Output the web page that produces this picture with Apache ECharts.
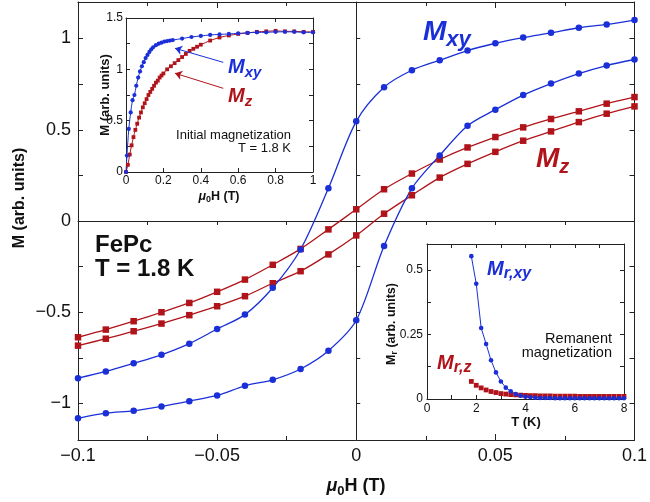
<!DOCTYPE html>
<html>
<head>
<meta charset="utf-8">
<script src="https://cdn.jsdelivr.net/npm/echarts@6/dist/echarts.min.js"></script>
<style>
  html, body { margin: 0; padding: 0; background: #fff; }
  #chart { width: 650px; height: 502px; }
</style>
</head>
<body>
<div id="chart"></div>
<script>
// ---- Hysteresis loops at T = 1.8 K (main panel) ----
const fieldMain = [-0.1, -0.09, -0.08, -0.07, -0.06, -0.05, -0.04, -0.03, -0.02, -0.01, 0,
                   0.01, 0.02, 0.03, 0.04, 0.05, 0.06, 0.07, 0.08, 0.09, 0.1];
const mxyUpper = [-0.861, -0.824, -0.780, -0.733, -0.672, -0.592, -0.513, -0.366, -0.156, 0.179, 0.546,
                  0.733, 0.826, 0.881, 0.934, 0.974, 1.005, 1.031, 1.059, 1.077, 1.101];
const mxyLower = [-1.081, -1.053, -1.040, -1.016, -0.987, -0.956, -0.903, -0.870, -0.811, -0.711, -0.544,
                  -0.137, 0.179, 0.359, 0.522, 0.610, 0.690, 0.753, 0.808, 0.852, 0.885];
const mzUpper = [-0.637, -0.595, -0.549, -0.500, -0.449, -0.388, -0.321, -0.240, -0.153, -0.046, 0.064,
                 0.174, 0.260, 0.337, 0.403, 0.460, 0.513, 0.559, 0.601, 0.643, 0.679];
const mzLower = [-0.683, -0.645, -0.604, -0.562, -0.516, -0.467, -0.412, -0.341, -0.275, -0.183, -0.079,
                 0.040, 0.141, 0.238, 0.313, 0.379, 0.440, 0.491, 0.542, 0.588, 0.628];

// ---- Initial magnetization curves (upper-left inset) ----
const initFieldXY = [0, 0.005, 0.015, 0.025, 0.035, 0.045, 0.055, 0.065, 0.075, 0.085, 0.095, 0.105,
                     0.115, 0.125, 0.135, 0.145, 0.16, 0.175, 0.19, 0.205, 0.22, 0.235, 0.25, 0.3,
                     0.35, 0.4, 0.45, 0.5, 0.55, 0.6, 0.65, 0.7, 0.75, 0.8, 0.85, 0.9, 0.95, 1.0];
const initMxy = [0, 0.16, 0.42, 0.58, 0.70, 0.75, 0.84, 0.92, 0.98, 1.03, 1.07, 1.11,
                 1.14, 1.17, 1.195, 1.215, 1.235, 1.25, 1.26, 1.27, 1.275, 1.28, 1.285, 1.30,
                 1.315, 1.325, 1.335, 1.34, 1.345, 1.35, 1.355, 1.36, 1.36, 1.365, 1.365, 1.365, 1.36, 1.36];
const initFieldZ = [0, 0.01, 0.02, 0.03, 0.04, 0.05, 0.06, 0.07, 0.08, 0.09, 0.1, 0.11, 0.12, 0.13,
                    0.14, 0.15, 0.16, 0.17, 0.18, 0.19, 0.2, 0.22, 0.24, 0.26, 0.28, 0.3, 0.32, 0.34,
                    0.36, 0.38, 0.4, 0.45, 0.5, 0.55, 0.6, 0.65, 0.7, 0.75, 0.8, 0.85, 0.9, 0.95, 1.0];
const initMz = [0, 0.07, 0.17, 0.26, 0.34, 0.41, 0.47, 0.53, 0.58, 0.63, 0.67, 0.71, 0.75, 0.78,
                0.81, 0.84, 0.87, 0.89, 0.92, 0.94, 0.96, 1.00, 1.03, 1.06, 1.09, 1.12, 1.15, 1.18,
                1.20, 1.22, 1.24, 1.28, 1.31, 1.33, 1.345, 1.355, 1.365, 1.37, 1.375, 1.37, 1.37, 1.365, 1.365];

// ---- Remanent magnetization vs temperature (lower-right inset) ----
const tempK = [1.8, 2.0, 2.2, 2.4, 2.6, 2.8, 3.0, 3.2, 3.4, 3.6, 3.8, 4.0, 4.2, 4.4, 4.6, 4.8,
               5.0, 5.2, 5.4, 5.6, 5.8, 6.0, 6.2, 6.4, 6.6, 6.8, 7.0, 7.2, 7.4, 7.6, 7.8, 8.0];
const mrXY = [0.553, 0.446, 0.275, 0.213, 0.150, 0.103, 0.068, 0.044, 0.030, 0.019, 0.013, 0.009,
              0.007, 0.005, 0.004, 0.004, 0.004, 0.003, 0.003, 0.003, 0.003, 0.003, 0.003, 0.003,
              0.003, 0.003, 0.003, 0.003, 0.003, 0.003, 0.003, 0.003];
const mrZ = [0.068, 0.053, 0.043, 0.035, 0.029, 0.025, 0.021, 0.019, 0.017, 0.016, 0.015, 0.014,
             0.013, 0.013, 0.012, 0.012, 0.012, 0.011, 0.011, 0.011, 0.011, 0.011, 0.010, 0.010,
             0.010, 0.010, 0.010, 0.010, 0.010, 0.010, 0.010, 0.010];

// tick / label positions
const mainYLabels = [-1, -0.5, 0, 0.5, 1];
const mainYTicks = [-1, -0.75, -0.5, -0.25, 0, 0.25, 0.5, 0.75, 1];

const BLUE = '#1a2fd8';
const RED = '#b0141a';
const INK = '#222';
const FONT = '"Liberation Sans", Arial, Helvetica, sans-serif';

const pairs = (xs, ys) => xs.map((x, i) => [x, ys[i]]);
const fmtNum = v => (v < 0 ? '\u2212' : '') + String(Math.round(Math.abs(v) * 1000) / 1000);
const onStep = (v, step) => Math.abs(v / step - Math.round(v / step)) < 1e-6;

const frameLine = { show: true, onZero: false, lineStyle: { color: INK, width: 1 } };

function axisBase(extra) {
  return Object.assign({
    type: 'value',
    splitLine: { show: false },
    axisLine: frameLine,
    axisTick: { show: true, inside: true, length: 6, lineStyle: { color: INK, width: 1 } },
    axisLabel: { show: false }
  }, extra);
}

// bold italic symbol with a subscript, e.g. M_xy
function subText(x, y, main, sub, color, size, subSize, drop) {
  return { type: 'text', x: x, y: y, z: 10, style: {
    text: '{m|' + main + '}{s|' + sub + '}', align: 'left', verticalAlign: 'top',
    rich: {
      m: { fontSize: size, fontWeight: 'bold', fontStyle: 'italic', fontFamily: FONT, fill: color, verticalAlign: 'top' },
      s: { fontSize: subSize, fontWeight: 'bold', fontStyle: 'italic', fontFamily: FONT, fill: color, verticalAlign: 'top', padding: [drop, 0, 0, 0] }
    } } };
}

// "μ0H (T)" axis title
function fieldTitle(x, y, size, subSize, drop) {
  return { type: 'text', x: x, y: y, z: 10, style: {
    text: '{a|\u03bc}{s|0}{b|H (T)}', align: 'center', verticalAlign: 'top',
    rich: {
      a: { fontSize: size, fontWeight: 'bold', fontStyle: 'italic', fontFamily: FONT, fill: '#111', verticalAlign: 'top' },
      s: { fontSize: subSize, fontWeight: 'bold', fontFamily: FONT, fill: '#111', verticalAlign: 'top', padding: [drop, 0, 0, 0] },
      b: { fontSize: size, fontWeight: 'bold', fontFamily: FONT, fill: '#111', verticalAlign: 'top' }
    } } };
}

const chart = echarts.init(document.getElementById('chart'), null, { renderer: 'canvas' });

const option = {
  animation: false,
  backgroundColor: '#fff',
  textStyle: { fontFamily: FONT },
  grid: [
    { left: 78, right: 9, top: 2, bottom: 62 },          // main panel
    { left: 126, width: 187, top: 18, height: 154 },      // initial magnetization inset
    { left: 427, width: 197, top: 244, height: 155 }      // remanent magnetization inset
  ],
  xAxis: [
    // main bottom
    axisBase({
      gridIndex: 0, position: 'bottom', min: -0.1, max: 0.1, interval: 0.05,
      minorTick: { show: true, splitNumber: 2, length: 4, lineStyle: { color: INK } },
      axisLabel: { show: true, fontSize: 18, color: '#111', margin: 7, fontFamily: FONT,
        formatter: v => fmtNum(v) }
    }),
    // main top (ticks only)
    axisBase({
      gridIndex: 0, position: 'top', min: -0.1, max: 0.1, interval: 0.05,
      minorTick: { show: true, splitNumber: 2, length: 4, lineStyle: { color: INK } }
    }),
    // horizontal line through M = 0
    axisBase({
      gridIndex: 0, position: 'bottom', min: -0.1, max: 0.1, interval: 0.025,
      axisLine: { show: true, onZero: true, onZeroAxisIndex: 0, lineStyle: { color: INK, width: 1 } },
      axisTick: { show: true, inside: false, length: 4, lineStyle: { color: INK } }
    }),
    // inset 1 bottom
    axisBase({
      gridIndex: 1, position: 'bottom', min: 0, max: 1, interval: 0.2,
      axisTick: { show: true, inside: true, length: 4, lineStyle: { color: INK } },
      axisLabel: { show: true, fontSize: 12, color: '#111', margin: 3, fontFamily: FONT,
        formatter: v => fmtNum(v) }
    }),
    // inset 1 top
    axisBase({
      gridIndex: 1, position: 'top', min: 0, max: 1, interval: 0.2,
      axisTick: { show: true, inside: true, length: 4, lineStyle: { color: INK } }
    }),
    // inset 2 bottom
    axisBase({
      gridIndex: 2, position: 'bottom', min: 0, max: 8, interval: 1,
      axisTick: { show: true, inside: true, length: 4, lineStyle: { color: INK } },
      axisLabel: { show: true, fontSize: 12, color: '#111', margin: 4, fontFamily: FONT,
        formatter: v => (onStep(v, 2) ? String(v) : '') }
    }),
    // inset 2 top
    axisBase({
      gridIndex: 2, position: 'top', min: 0, max: 8, interval: 1,
      axisTick: { show: true, inside: true, length: 4, lineStyle: { color: INK } }
    })
  ],
  yAxis: [
    // main left
    axisBase({
      gridIndex: 0, position: 'left', min: -1.2, max: 1.2,
      axisTick: { show: true, inside: true, length: 5, customValues: mainYTicks,
        lineStyle: { color: INK } },
      axisLabel: { show: true, fontSize: 18, color: '#111', margin: 7, fontFamily: FONT,
        customValues: mainYLabels, formatter: v => fmtNum(v) }
    }),
    // main right
    axisBase({
      gridIndex: 0, position: 'right', min: -1.2, max: 1.2,
      axisTick: { show: true, inside: true, length: 5, customValues: mainYTicks,
        lineStyle: { color: INK } }
    }),
    // vertical line through field = 0
    axisBase({
      gridIndex: 0, position: 'left', min: -1.2, max: 1.2,
      axisLine: { show: true, onZero: true, onZeroAxisIndex: 0, lineStyle: { color: INK, width: 1 } },
      axisTick: { show: true, inside: true, length: 4, customValues: mainYTicks,
        lineStyle: { color: INK } }
    }),
    // inset 1 left
    axisBase({
      gridIndex: 1, position: 'left', min: 0, max: 1.5, interval: 0.25,
      axisTick: { show: true, inside: true, length: 4, lineStyle: { color: INK } },
      axisLabel: { show: true, fontSize: 12, color: '#111', margin: 3, fontFamily: FONT,
        formatter: v => (onStep(v, 0.5) ? String(v) : '') }
    }),
    // inset 1 right
    axisBase({
      gridIndex: 1, position: 'right', min: 0, max: 1.5, interval: 0.25,
      axisTick: { show: true, inside: true, length: 4, lineStyle: { color: INK } }
    }),
    // inset 2 left
    axisBase({
      gridIndex: 2, position: 'left', min: 0, max: 0.6, interval: 0.125,
      axisTick: { show: true, inside: true, length: 4, lineStyle: { color: INK } },
      axisLabel: { show: true, fontSize: 12, color: '#111', margin: 4, fontFamily: FONT,
        formatter: v => (onStep(v, 0.25) ? String(v) : '') }
    }),
    // inset 2 right
    axisBase({
      gridIndex: 2, position: 'right', min: 0, max: 0.6, interval: 0.125,
      axisTick: { show: true, inside: true, length: 4, lineStyle: { color: INK } }
    })
  ],
  series: [
    // main loops
    { type: 'line', xAxisIndex: 0, yAxisIndex: 0, data: pairs(fieldMain, mzUpper), smooth: 0.3,
      symbol: 'rect', symbolSize: 6.5, itemStyle: { color: RED }, lineStyle: { color: RED, width: 1.3 } },
    { type: 'line', xAxisIndex: 0, yAxisIndex: 0, data: pairs(fieldMain, mzLower), smooth: 0.3,
      symbol: 'rect', symbolSize: 6.5, itemStyle: { color: RED }, lineStyle: { color: RED, width: 1.3 } },
    { type: 'line', xAxisIndex: 0, yAxisIndex: 0, data: pairs(fieldMain, mxyUpper), smooth: 0.3,
      symbol: 'circle', symbolSize: 6.5, itemStyle: { color: BLUE }, lineStyle: { color: BLUE, width: 1.3 } },
    { type: 'line', xAxisIndex: 0, yAxisIndex: 0, data: pairs(fieldMain, mxyLower), smooth: 0.3,
      symbol: 'circle', symbolSize: 6.5, itemStyle: { color: BLUE }, lineStyle: { color: BLUE, width: 1.3 } },

    // initial magnetization inset
    { type: 'line', xAxisIndex: 3, yAxisIndex: 3, data: pairs(initFieldZ, initMz), smooth: 0.3,
      symbol: 'rect', symbolSize: 3.8, itemStyle: { color: RED }, lineStyle: { color: RED, width: 1 },
      markLine: { silent: true, symbol: ['none', 'arrow'], symbolSize: 7,
        label: { show: false }, lineStyle: { color: RED, width: 1, type: 'solid' },
        data: [[{ coord: [0.52, 0.815] }, { coord: [0.262, 0.962] }]] } },
    { type: 'line', xAxisIndex: 3, yAxisIndex: 3, data: pairs(initFieldXY, initMxy), smooth: 0.3,
      symbol: 'circle', symbolSize: 4.2, itemStyle: { color: BLUE }, lineStyle: { color: BLUE, width: 1 },
      markLine: { silent: true, symbol: ['none', 'arrow'], symbolSize: 7,
        label: { show: false }, lineStyle: { color: BLUE, width: 1, type: 'solid' },
        data: [[{ coord: [0.52, 1.068] }, { coord: [0.262, 1.205] }]] } },

    // remanent magnetization inset
    { type: 'line', xAxisIndex: 5, yAxisIndex: 5, data: pairs(tempK, mrZ),
      symbol: 'rect', symbolSize: 4.8, itemStyle: { color: RED }, lineStyle: { width: 0 } },
    { type: 'line', xAxisIndex: 5, yAxisIndex: 5, data: pairs(tempK, mrXY),
      symbol: 'circle', symbolSize: 4.6, itemStyle: { color: BLUE }, lineStyle: { color: BLUE, width: 1 } }
  ],
  graphic: [
    // main axis titles
    fieldTitle(356, 477, 18, 13, 8),
    { type: 'text', x: 20, y: 198, rotation: Math.PI / 2, z: 10, style: {
        text: 'M (arb. units)', font: 'bold 16px ' + FONT, fill: '#111', align: 'center', verticalAlign: 'middle' } },

    // sample / temperature
    { type: 'text', x: 95, y: 245, z: 10, style: {
        text: 'FePc', font: 'bold 24px ' + FONT, fill: '#111', align: 'left', verticalAlign: 'middle' } },
    { type: 'text', x: 95, y: 269, z: 10, style: {
        text: 'T = 1.8 K', font: 'bold 24px ' + FONT, fill: '#111', align: 'left', verticalAlign: 'middle' } },

    // series labels, main panel
    subText(423, 18, 'M', 'xy', BLUE, 28, 22, 11),
    subText(536, 145, 'M', 'z', RED, 28, 20, 12),

    // inset 1 texts
    fieldTitle(219, 190, 12.5, 9, 5),
    { type: 'text', x: 105, y: 95, rotation: Math.PI / 2, z: 10, style: {
        text: 'M (arb. units)', font: 'bold 13px ' + FONT, fill: '#111', align: 'center', verticalAlign: 'middle' } },
    { type: 'text', x: 291, y: 135, z: 10, style: {
        text: 'Initial magnetization', font: '13px ' + FONT, fill: '#111', align: 'right', verticalAlign: 'middle' } },
    { type: 'text', x: 291, y: 148, z: 10, style: {
        text: 'T = 1.8 K', font: '13px ' + FONT, fill: '#111', align: 'right', verticalAlign: 'middle' } },
    subText(228, 57, 'M', 'xy', BLUE, 20, 15, 8),
    subText(228, 86, 'M', 'z', RED, 20, 15, 8),

    // inset 2 texts
    { type: 'text', x: 526, y: 416, z: 10, style: {
        text: 'T (K)', font: 'bold 13px ' + FONT, fill: '#111', align: 'center', verticalAlign: 'top' } },
    { type: 'text', x: 392, y: 324, rotation: Math.PI / 2, z: 10, style: {
        text: '{m|M}{s|r}{b| (arb. units)}', align: 'center', verticalAlign: 'middle',
        rich: {
          m: { fontSize: 12.5, fontWeight: 'bold', fontFamily: FONT, fill: '#111', verticalAlign: 'top' },
          s: { fontSize: 9, fontWeight: 'bold', fontFamily: FONT, fill: '#111', verticalAlign: 'top', padding: [5, 0, 0, 0] },
          b: { fontSize: 12.5, fontWeight: 'bold', fontFamily: FONT, fill: '#111', verticalAlign: 'top' }
        } } },
    { type: 'text', x: 612, y: 339, z: 10, style: {
        text: 'Remanent', font: '14.5px ' + FONT, fill: '#111', align: 'right', verticalAlign: 'middle' } },
    { type: 'text', x: 612, y: 353, z: 10, style: {
        text: 'magnetization', font: '14.5px ' + FONT, fill: '#111', align: 'right', verticalAlign: 'middle' } },
    subText(487, 259, 'M', 'r,xy', BLUE, 20, 16, 7),
    subText(437, 353, 'M', 'r,z', RED, 20, 16, 7)
  ]
};

chart.setOption(option);
</script>
</body>
</html>
